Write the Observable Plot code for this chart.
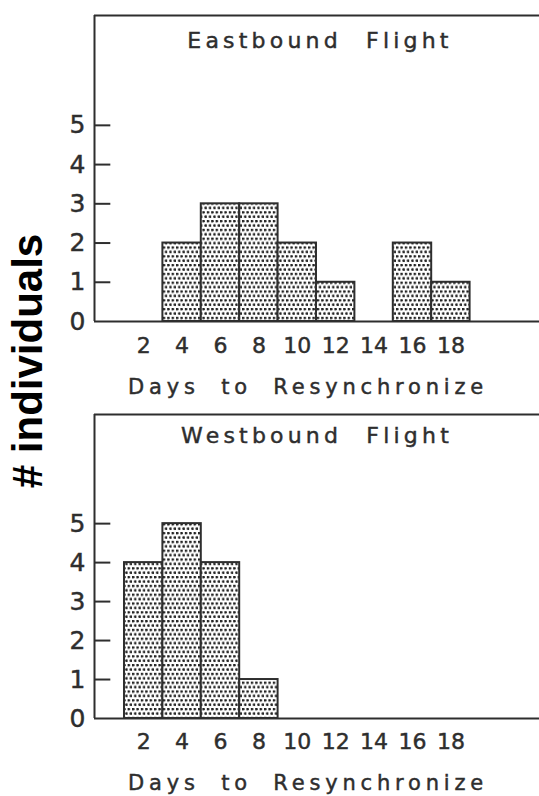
<!DOCTYPE html>
<html>
<head>
<meta charset="utf-8">
<script src="https://cdn.jsdelivr.net/npm/d3@7"></script>
<script src="https://cdn.jsdelivr.net/npm/@observablehq/plot@0.6"></script>
<style>
  html, body { margin: 0; padding: 0; background: #fff; }
  #wrap { position: relative; width: 539px; height: 796px; overflow: hidden; background: #fff; }
  .panel { position: absolute; left: 0; }
  .panel text { stroke: #2e2e2e; stroke-width: 0.45px; }
  #ylabel {
    position: absolute; left: 28px; top: 361px;
    transform: translate(-50%, -50%) rotate(-90deg);
    font-family: "Liberation Sans", Arial, sans-serif; font-weight: bold;
    font-size: 42px; line-height: 1; white-space: nowrap; color: #000;
  }
</style>
</head>
<body>
<div id="wrap">
  <svg width="0" height="0" style="position:absolute">
    <defs>
      <pattern id="stipple" patternUnits="userSpaceOnUse" width="4.4" height="8.8">
        <rect width="4.4" height="8.8" fill="#fff"></rect>
        <circle cx="1.1" cy="1.1" r="1.4" fill="#222"></circle>
        <circle cx="3.3" cy="5.5" r="1.4" fill="#222"></circle>
      </pattern>
    </defs>
  </svg>
  <div id="ylabel"># individuals</div>
</div>
<script>
// ---- data ----
const days = [2, 4, 6, 8, 10, 12, 14, 16, 18];
const eastbound = [0, 2, 3, 3, 2, 1, 0, 2, 1];
const westbound = [4, 5, 4, 1, 0, 0, 0, 0, 0];
const yTicks = [0, 1, 2, 3, 4, 5];
const binWidth = 2;
const xLabel = "Days to Resynchronize";
const titles = ["Eastbound Flight", "Westbound Flight"];

const xDomain = [-0.5625, 22.615];
const yMax = 7.8;
const ink = "#2e2e2e";

function panel(counts, title, opts) {
  const data = days.map((d, i) => ({day: d, count: counts[i]})).filter(d => d.count > 0);
  const svg = Plot.plot({
    width: 539,
    height: opts.height,
    marginLeft: 94,
    marginRight: 0,
    marginTop: opts.marginTop,
    marginBottom: opts.marginBottom,
    style: {fontFamily: "DejaVu Sans", color: ink, background: "transparent", overflow: "visible"},
    x: {domain: xDomain},
    y: {domain: [0, yMax]},
    marks: [
      Plot.rectY(data, {
        x1: d => d.day - binWidth / 2,
        x2: d => d.day + binWidth / 2,
        y: "count",
        fill: "url(#stipple)",
        stroke: ink,
        strokeWidth: 2
      }),
      Plot.ruleX([xDomain[0]], {stroke: ink, strokeWidth: 2}),
      Plot.ruleY([0, yMax], {stroke: ink, strokeWidth: 2}),
      Plot.ruleY(yTicks.slice(1), {x1: xDomain[0], x2: xDomain[0] + 0.85, stroke: ink, strokeWidth: 2}),
      Plot.axisY(yTicks, {tickSize: 0, tickPadding: 9, label: null}),
      Plot.axisX(days, {tickSize: 0, tickPadding: opts.tickPad, label: null}),
      Plot.text([title], {frameAnchor: "top", lineAnchor: "top", dy: opts.titleDy, dx: opts.titleDx, fontSize: 22, fill: ink}),
      Plot.text([xLabel], {frameAnchor: "bottom", lineAnchor: "bottom", dy: opts.labelDy, dx: -9, fontSize: 21, fill: ink})
    ]
  });
  d3.select(svg).selectAll("text").each(function() {
    const g = this.closest("g");
    const lab = (g && g.getAttribute("aria-label")) || "";
    const t = this.textContent;
    if (lab.includes("y-axis")) {
      this.style.fontSize = "25px";
    } else if (lab.includes("x-axis")) {
      this.style.fontSize = "22px";
    } else if (t.startsWith("Days")) {
      this.style.letterSpacing = "4.8px";
      this.style.wordSpacing = "10px";
    } else {
      this.style.letterSpacing = "4.2px";
      this.style.wordSpacing = "13px";
    }
  });
  svg.classList.add("panel");
  svg.style.top = opts.top + "px";
  return svg;
}

const wrap = document.getElementById("wrap");
wrap.appendChild(panel(eastbound, titles[0], {top: 0, height: 400, marginTop: 15, marginBottom: 79, tickPad: 16, titleDy: 17, titleDx: 3, labelDy: 72}));
wrap.appendChild(panel(westbound, titles[1], {top: 400, height: 396, marginTop: 14, marginBottom: 78, tickPad: 15, titleDy: 13, titleDx: 0, labelDy: 71}));
</script>
</body>
</html>
